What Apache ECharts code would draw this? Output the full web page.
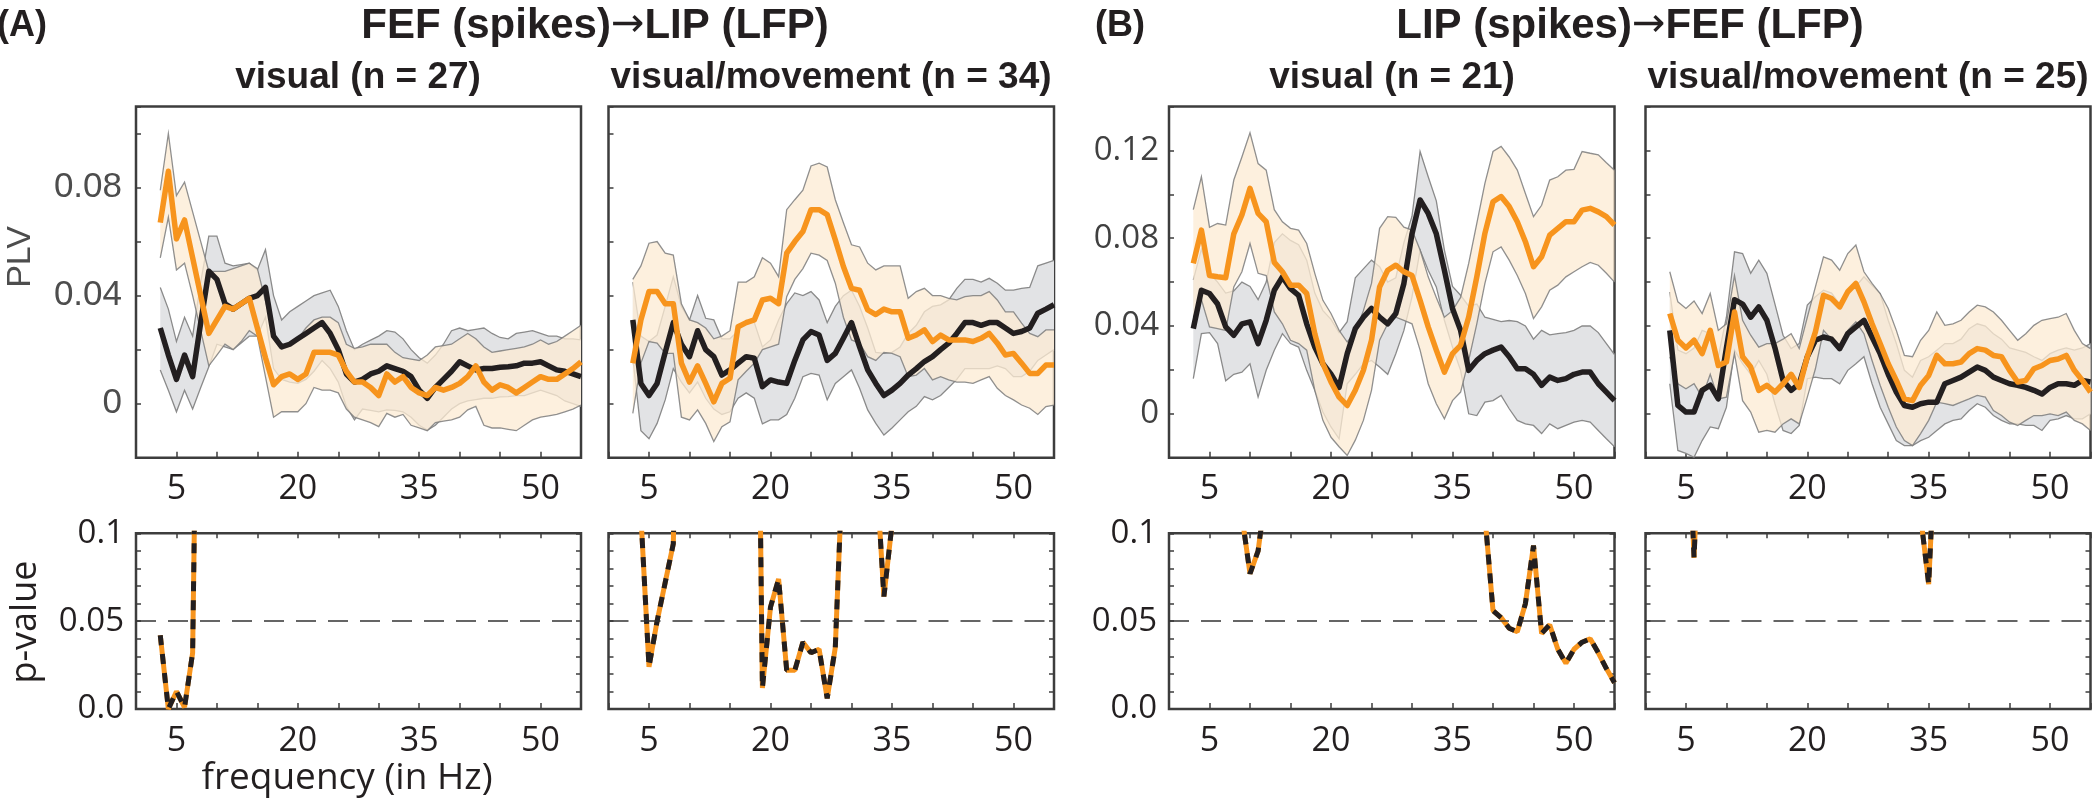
<!DOCTYPE html>
<html>
<head>
<meta charset="utf-8">
<script src="https://cdn.jsdelivr.net/npm/echarts@6/dist/echarts.min.js"></script>
<style>
  html, body { margin: 0; padding: 0; background: #fff; }
  #main { width: 2100px; height: 802px; }
</style>
</head>
<body>
<div id="main"></div>
<script>
// frequency axis (Hz)
const freq = [3, 4, 5, 6, 7, 8, 9, 10, 11, 12, 13, 14, 15, 16, 17, 18, 19, 20, 21, 22,
  23, 24, 25, 26, 27, 28, 29, 30, 31, 32, 33, 34, 35, 36, 37, 38, 39, 40, 41, 42,
  43, 44, 45, 46, 47, 48, 49, 50, 51, 52, 53, 54, 55];
const xLabels = [5, 20, 35, 50];

// (A) FEF -> LIP, visual (n = 27)
const aVisBlack = [0.028, 0.018, 0.009, 0.018, 0.010, 0.030, 0.049, 0.046, 0.037, 0.035,
  0.037, 0.039, 0.040, 0.043, 0.025, 0.021, 0.022, 0.024, 0.026, 0.028,
  0.030, 0.026, 0.020, 0.011, 0.008, 0.009, 0.011, 0.012, 0.014, 0.013,
  0.012, 0.010, 0.005, 0.002, 0.006, 0.009, 0.012, 0.0155, 0.014, 0.0125,
  0.013, 0.013, 0.0135, 0.0137, 0.014, 0.015, 0.015, 0.0155, 0.014, 0.0125,
  0.012, 0.011, 0.010];
const aVisBlackHi = [0.043, 0.035, 0.023, 0.032, 0.025, 0.045, 0.062, 0.062, 0.052, 0.051,
  0.0515, 0.052, 0.0495, 0.057, 0.040, 0.031, 0.034, 0.036, 0.038, 0.040,
  0.041, 0.042, 0.036, 0.027, 0.020, 0.022, 0.0235, 0.025, 0.027, 0.0265,
  0.024, 0.020, 0.017, 0.015, 0.018, 0.022, 0.027, 0.028, 0.027, 0.0275,
  0.028, 0.026, 0.0245, 0.024, 0.026, 0.0265, 0.027, 0.026, 0.025, 0.025,
  0.024, 0.024, 0.0236];
const aVisBlackLo = [0.0125, 0.005, -0.003, 0.005, -0.002, 0.006, 0.0137, 0.022, 0.021, 0.020,
  0.0225, 0.025, 0.025, 0.032, 0.013, 0.009, 0.008, 0.0075, 0.009, 0.012,
  0.016, 0.013, 0.008, -0.001, -0.006, -0.002, -0.0025, -0.003, -0.0023, -0.0025,
  -0.003, -0.005, -0.008, -0.0098, -0.008, -0.005, -0.002, 0.000, 0.001, 0.0015,
  0.002, 0.002, 0.0025, 0.0026, 0.003, 0.003, 0.004, 0.005, 0.004, 0.003,
  0.001, 0.000, -0.001];
const aVisOrange = [0.067, 0.086, 0.061, 0.068, 0.054, 0.040, 0.026, 0.031, 0.036, 0.035,
  0.037, 0.039, 0.028, 0.017, 0.007, 0.010, 0.011, 0.009, 0.011, 0.019,
  0.019, 0.019, 0.018, 0.012, 0.008, 0.008, 0.006, 0.003, 0.011, 0.008,
  0.010, 0.006, 0.004, 0.003, 0.006, 0.005, 0.006, 0.0075, 0.010, 0.014,
  0.008, 0.005, 0.007, 0.006, 0.004, 0.006, 0.008, 0.010, 0.009, 0.009,
  0.011, 0.013, 0.0155];
const aVisOrangeHi = [0.079, 0.100, 0.077, 0.082, 0.071, 0.060, 0.049, 0.049, 0.049, 0.050,
  0.051, 0.052, 0.050, 0.038, 0.026, 0.021, 0.022, 0.024, 0.028, 0.031,
  0.032, 0.032, 0.030, 0.022, 0.0205, 0.021, 0.022, 0.022, 0.022, 0.019,
  0.017, 0.0165, 0.016, 0.018, 0.021, 0.0215, 0.022, 0.024, 0.026, 0.024,
  0.021, 0.019, 0.0195, 0.020, 0.0205, 0.021, 0.022, 0.0236, 0.022, 0.023,
  0.025, 0.027, 0.029];
const aVisOrangeLo = [0.054, 0.069, 0.0495, 0.052, 0.040, 0.027, 0.014, 0.018, 0.022, 0.020,
  0.023, 0.027, 0.025, 0.010, -0.005, -0.003, -0.003, -0.003, 0.000, 0.006,
  0.005, 0.005, 0.004, -0.002, -0.005, -0.006, -0.007, -0.0085, -0.0036, -0.005,
  -0.004, -0.008, -0.009, -0.010, -0.007, -0.0065, -0.006, -0.005, -0.0023, -0.001,
  -0.008, -0.009, -0.009, -0.0095, -0.010, -0.008, -0.006, -0.005, -0.0045, -0.004,
  -0.003, -0.002, -0.0005];

// (A) FEF -> LIP, visual/movement (n = 34)
const aVmBlack = [0.031, 0.0075, 0.003, 0.0075, 0.019, 0.030, 0.022, 0.0174, 0.027, 0.020,
  0.0174, 0.0106, 0.0125, 0.015, 0.0174, 0.0168, 0.0063, 0.0088, 0.008, 0.0075,
  0.016, 0.0236, 0.0267, 0.0254, 0.016, 0.0186, 0.0242, 0.030, 0.021, 0.0125,
  0.0075, 0.003, 0.005, 0.0075, 0.0106, 0.013, 0.0156, 0.0174, 0.020, 0.0224,
  0.026, 0.030, 0.030, 0.029, 0.030, 0.030, 0.028, 0.026, 0.0267, 0.028,
  0.0335, 0.035, 0.0366];
const aVmBlackHi = [0.045, 0.025, 0.023, 0.0254, 0.036, 0.047, 0.036, 0.031, 0.040, 0.0316,
  0.031, 0.024, 0.024, 0.027, 0.031, 0.030, 0.021, 0.0236, 0.031, 0.037,
  0.041, 0.040, 0.0415, 0.0384, 0.030, 0.036, 0.040, 0.042, 0.036, 0.028,
  0.019, 0.0186, 0.019, 0.021, 0.026, 0.029, 0.034, 0.036, 0.0366, 0.0384,
  0.0427, 0.046, 0.046, 0.045, 0.0464, 0.0446, 0.042, 0.042, 0.0427, 0.043,
  0.051, 0.052, 0.053];
const aVmBlackLo = [0.017, -0.010, -0.013, -0.0073, 0.0014, 0.013, 0.008, 0.004, 0.008, 0.002,
  -0.002, -0.004, -0.003, 0.002, 0.004, 0.002, -0.0075, -0.006, -0.006, -0.004,
  0.002, 0.010, 0.0112, 0.0106, 0.0014, 0.0075, 0.010, 0.0125, 0.0057, -0.0023,
  -0.0073, -0.0116, -0.009, -0.006, -0.003, -0.001, 0.0026, 0.0014, 0.003, 0.006,
  0.009, 0.013, 0.013, 0.013, 0.013, 0.014, 0.013, 0.010, 0.010, 0.012,
  0.016, 0.018, 0.020];
const aVmOrange = [0.015, 0.031, 0.0415, 0.0415, 0.037, 0.037, 0.015, 0.008, 0.014, 0.0075,
  0.0007, 0.0075, 0.0094, 0.0285, 0.030, 0.031, 0.0384, 0.039, 0.037, 0.0557,
  0.060, 0.0637, 0.0718, 0.0718, 0.070, 0.0606, 0.0508, 0.0427, 0.042, 0.0347,
  0.033, 0.035, 0.034, 0.034, 0.0242, 0.0254, 0.0273, 0.023, 0.0254, 0.0236,
  0.0236, 0.0236, 0.023, 0.0242, 0.026, 0.0224, 0.018, 0.0186, 0.015, 0.0112,
  0.0112, 0.0143, 0.0143];
const aVmOrangeHi = [0.046, 0.051, 0.0594, 0.060, 0.0557, 0.055, 0.037, 0.031, 0.030, 0.028,
  0.024, 0.025, 0.027, 0.045, 0.045, 0.047, 0.054, 0.052, 0.047, 0.0718,
  0.0755, 0.079, 0.088, 0.089, 0.0876, 0.0755, 0.067, 0.0588, 0.058, 0.052,
  0.0495, 0.051, 0.051, 0.051, 0.039, 0.0415, 0.0427, 0.040, 0.040, 0.039,
  0.0384, 0.0396, 0.040, 0.040, 0.0415, 0.0384, 0.034, 0.034, 0.0298, 0.026,
  0.0248, 0.0273, 0.0273];
const aVmOrangeLo = [-0.0036, 0.015, 0.023, 0.0224, 0.0186, 0.0186, -0.005, -0.006, -0.0023, -0.0073,
  -0.014, -0.0085, -0.0067, 0.0088, 0.012, 0.015, 0.020, 0.021, 0.022, 0.0396,
  0.046, 0.050, 0.0557, 0.055, 0.053, 0.0446, 0.032, 0.0236, 0.0224, 0.0174,
  0.016, 0.019, 0.0186, 0.0174, 0.010, 0.0106, 0.013, 0.0088, 0.010, 0.0088,
  0.008, 0.008, 0.0075, 0.0088, 0.010, 0.0057, 0.003, 0.0014, -0.0005, -0.0017,
  -0.004, -0.0011, -0.0005];

// (B) LIP -> FEF, visual (n = 21)
const bVisBlack = [0.0388, 0.0563, 0.0548, 0.050, 0.0396, 0.0358, 0.041, 0.0419, 0.032, 0.0426,
  0.0563, 0.0624, 0.057, 0.054, 0.041, 0.0304, 0.0228, 0.018, 0.012, 0.0274,
  0.0388, 0.044, 0.048, 0.044, 0.041, 0.0457, 0.0594, 0.082, 0.0974, 0.0913,
  0.082, 0.0654, 0.048, 0.038, 0.0198, 0.0243, 0.0274, 0.029, 0.0304, 0.026,
  0.0205, 0.0205, 0.018, 0.013, 0.0167, 0.0152, 0.016, 0.018, 0.019, 0.019,
  0.0137, 0.0099, 0.006];
const bVisBlackHi = [0.061, 0.075, 0.064, 0.060, 0.055, 0.056, 0.060, 0.058, 0.052, 0.060,
  0.078, 0.082, 0.079, 0.077, 0.070, 0.055, 0.047, 0.043, 0.037, 0.042,
  0.062, 0.066, 0.070, 0.067, 0.060, 0.062, 0.078, 0.090, 0.1195, 0.108,
  0.097, 0.0746, 0.058, 0.054, 0.049, 0.050, 0.044, 0.043, 0.042, 0.0425,
  0.042, 0.040, 0.034, 0.038, 0.036, 0.0365, 0.037, 0.038, 0.040, 0.040,
  0.037, 0.032, 0.027];
const bVisBlackLo = [0.016, 0.0365, 0.037, 0.032, 0.015, 0.018, 0.019, 0.0228, 0.0076, 0.0198,
  0.029, 0.0365, 0.032, 0.0304, 0.0198, 0.0107, 0.0008, -0.006, -0.0114, 0.0137,
  0.018, 0.0228, 0.0243, 0.0213, 0.018, 0.0274, 0.038, 0.0533, 0.0746, 0.0654,
  0.0578, 0.0426, 0.0304, 0.0198, 0.000, -0.0008, 0.0053, 0.006, 0.0084, 0.0023,
  -0.003, -0.0046, -0.0053, -0.009, -0.0046, -0.0068, -0.0053, -0.0038, -0.003, -0.0038,
  -0.0076, -0.0114, -0.015];
const bVisOrange = [0.0685, 0.0837, 0.063, 0.0624, 0.062, 0.082, 0.0906, 0.1027, 0.0913, 0.0875,
  0.069, 0.0647, 0.0586, 0.0586, 0.0548, 0.0365, 0.0228, 0.0145, 0.0076, 0.0038,
  0.0107, 0.0198, 0.0335, 0.0578, 0.0654, 0.0677, 0.0647, 0.063, 0.0517, 0.0396,
  0.029, 0.019, 0.0274, 0.0312, 0.0441, 0.0624, 0.0822, 0.0966, 0.099, 0.0944,
  0.0875, 0.0784, 0.067, 0.0715, 0.0814, 0.0845, 0.0875, 0.0875, 0.0928, 0.0936,
  0.092, 0.0898, 0.086];
const bVisOrangeHi = [0.093, 0.108, 0.085, 0.0867, 0.086, 0.1065, 0.117, 0.128, 0.114, 0.111,
  0.093, 0.0875, 0.0845, 0.0837, 0.0776, 0.064, 0.0517, 0.0457, 0.038, 0.0327,
  0.0373, 0.047, 0.0594, 0.0845, 0.0898, 0.0895, 0.085, 0.0837, 0.0746, 0.0624,
  0.053, 0.044, 0.047, 0.053, 0.0685, 0.0867, 0.105, 0.1195, 0.1218, 0.117,
  0.111, 0.1004, 0.0898, 0.095, 0.1065, 0.108, 0.111, 0.1114, 0.1195, 0.1187,
  0.118, 0.1144, 0.111];
const bVisOrangeLo = [0.044, 0.052, 0.0396, 0.0388, 0.038, 0.0578, 0.0647, 0.0776, 0.064, 0.063,
  0.0464, 0.041, 0.0335, 0.032, 0.029, 0.0107, -0.003, -0.0107, -0.015, -0.019,
  -0.012, -0.003, 0.0107, 0.0335, 0.041, 0.044, 0.0426, 0.041, 0.029, 0.0137,
  0.0046, -0.0023, 0.006, 0.0099, 0.0243, 0.041, 0.0594, 0.0738, 0.076, 0.070,
  0.063, 0.0548, 0.0434, 0.0487, 0.0563, 0.0586, 0.0624, 0.0647, 0.067, 0.069,
  0.0677, 0.064, 0.060];

// (B) LIP -> FEF, visual/movement (n = 25)
const bVmBlack = [0.038, 0.0038, 0.0008, 0.0008, 0.0107, 0.013, 0.0068, 0.030, 0.052, 0.050,
  0.044, 0.0487, 0.0426, 0.030, 0.0152, 0.0107, 0.0137, 0.026, 0.0335, 0.035,
  0.034, 0.0297, 0.0365, 0.0396, 0.0426, 0.035, 0.0274, 0.018, 0.0099, 0.0038,
  0.003, 0.0046, 0.0053, 0.0053, 0.0137, 0.0152, 0.0167, 0.019, 0.0213, 0.0198,
  0.0167, 0.0152, 0.0137, 0.013, 0.012, 0.0107, 0.009, 0.012, 0.0137, 0.0137,
  0.013, 0.0152, 0.0145];
const bVmBlackHi = [0.0555, 0.029, 0.0274, 0.030, 0.038, 0.0365, 0.026, 0.044, 0.0738, 0.073,
  0.064, 0.070, 0.064, 0.050, 0.0358, 0.0297, 0.032, 0.0495, 0.0533, 0.0563,
  0.055, 0.050, 0.055, 0.058, 0.0624, 0.0586, 0.0548, 0.0426, 0.032, 0.0198,
  0.0167, 0.0243, 0.026, 0.029, 0.032, 0.032, 0.034, 0.0388, 0.041, 0.040,
  0.0365, 0.034, 0.030, 0.029, 0.028, 0.026, 0.0243, 0.0274, 0.029, 0.030,
  0.029, 0.030, 0.032];
const bVmBlackLo = [0.0137, -0.0167, -0.018, -0.0198, -0.0122, -0.006, -0.0068, 0.003, 0.029, 0.0228,
  0.018, 0.0243, 0.018, 0.0046, -0.0076, -0.009, -0.0053, 0.016, 0.0167, 0.016,
  0.016, 0.0137, 0.0198, 0.0228, 0.026, 0.0137, 0.003, -0.0046, -0.0122, -0.0145,
  -0.0145, -0.0122, -0.0107, -0.0076, -0.0046, -0.003, -0.0023, 0.0015, 0.0046, 0.003,
  -0.0008, -0.003, -0.0046, -0.0046, -0.0053, -0.0053, -0.0076, -0.003, -0.0023, -0.0008,
  -0.0023, -0.0023, 0.000];
const bVmOrange = [0.0457, 0.0335, 0.030, 0.0335, 0.0274, 0.038, 0.022, 0.0236, 0.0464, 0.026,
  0.0213, 0.0107, 0.013, 0.0099, 0.0137, 0.018, 0.012, 0.026, 0.0373, 0.054,
  0.0525, 0.0487, 0.0556, 0.0594, 0.051, 0.041, 0.032, 0.0228, 0.0152, 0.0068,
  0.006, 0.013, 0.0175, 0.0266, 0.0228, 0.0228, 0.0236, 0.0274, 0.0297, 0.029,
  0.0266, 0.026, 0.0198, 0.0145, 0.0152, 0.0205, 0.022, 0.0243, 0.025, 0.0266,
  0.0198, 0.0152, 0.0099];
const bVmOrangeHi = [0.0647, 0.051, 0.048, 0.0514, 0.0457, 0.0548, 0.038, 0.041, 0.063, 0.0426,
  0.0358, 0.0304, 0.032, 0.032, 0.034, 0.0365, 0.0297, 0.044, 0.0578, 0.0715,
  0.070, 0.0654, 0.073, 0.0769, 0.0647, 0.0594, 0.0548, 0.048, 0.038, 0.0266,
  0.026, 0.0335, 0.038, 0.0464, 0.0403, 0.041, 0.0426, 0.0464, 0.0495, 0.0487,
  0.0464, 0.0426, 0.038, 0.0335, 0.0365, 0.0403, 0.0426, 0.0434, 0.044, 0.0457,
  0.038, 0.032, 0.0297];
const bVmOrangeLo = [0.026, 0.0137, 0.0114, 0.0137, 0.0076, 0.018, 0.0068, 0.0076, 0.0274, 0.006,
  0.0008, -0.0084, -0.0076, -0.0084, -0.0046, -0.0023, -0.0046, 0.0076, 0.0205, 0.038,
  0.034, 0.0304, 0.038, 0.0419, 0.0365, 0.0243, 0.013, 0.003, -0.006, -0.0122,
  -0.0145, -0.009, -0.003, 0.0053, 0.0046, 0.0038, 0.0053, 0.0068, 0.0084, 0.0076,
  0.0015, -0.0008, -0.0038, -0.0053, -0.003, -0.0008, -0.0008, 0.000, -0.0008, 0.0008,
  -0.003, -0.0046, -0.0076];

// p-values, [Hz, p]; null breaks the line, values above 0.1 run off the top
const pAVis = [[3, 0.042], [4, 0.0], [5, 0.010], [6, 0.001], [7, 0.032], [8, 0.37]];
const pAVm = [[3, 0.4], [4, 0.11], [5, 0.024], [6, 0.05], [7, 0.072], [8, 0.094], [9, 0.3], [10, null],
  [18, 0.4], [19, 0.012], [20, 0.058], [21, 0.074], [22, 0.022], [23, 0.022], [24, 0.038],
  [25, 0.032], [26, 0.034], [27, 0.006], [28, 0.035], [29, 0.15], [30, null],
  [33, 0.14], [34, 0.064], [35, 0.105]];
const pBVis = [[9, 0.11], [10, 0.077], [11, 0.09], [12, 0.125], [13, null],
  [38, 0.25], [39, 0.11], [40, 0.056], [41, 0.052], [42, 0.046], [43, 0.044], [44, 0.060],
  [45, 0.093], [46, 0.043], [47, 0.048], [48, 0.034], [49, 0.026], [50, 0.034], [51, 0.038],
  [52, 0.040], [53, 0.032], [54, 0.023], [55, 0.015]];
const pBVm = [[5, 0.2], [6, 0.086], [7, 0.2], [8, null], [34, 0.11], [35, 0.071], [36, 0.17]];

const ORANGE = '#f7941d';
const BLACK = '#231f20';
const AXIS = '#3d3d3d';

const panels = [
  { k: aVisBlack, kHi: aVisBlackHi, kLo: aVisBlackLo, o: aVisOrange, oHi: aVisOrangeHi, oLo: aVisOrangeLo, p: pAVis },
  { k: aVmBlack, kHi: aVmBlackHi, kLo: aVmBlackLo, o: aVmOrange, oHi: aVmOrangeHi, oLo: aVmOrangeLo, p: pAVm },
  { k: bVisBlack, kHi: bVisBlackHi, kLo: bVisBlackLo, o: bVisOrange, oHi: bVisOrangeHi, oLo: bVisOrangeLo, p: pBVis },
  { k: bVmBlack, kHi: bVmBlackHi, kLo: bVmBlackLo, o: bVmOrange, oHi: bVmOrangeHi, oLo: bVmOrangeLo, p: pBVm }
];

const lefts = [136, 608.5, 1169, 1645.5];
const widths = [445, 445.5, 445.5, 445];
const topY = 106.5, topH = 351.2, botY = 533.3, botH = 175.7;

const grid = [];
lefts.forEach((l, i) => grid.push({ left: l, top: topY, width: widths[i], height: topH,
  show: true, borderColor: AXIS, borderWidth: 2.5, backgroundColor: 'transparent' }));
lefts.forEach((l, i) => grid.push({ left: l, top: botY, width: widths[i], height: botH,
  show: true, borderColor: AXIS, borderWidth: 2.5, backgroundColor: 'transparent' }));

const tick = (len) => ({ show: true, inside: true, length: len, lineStyle: { color: AXIS, width: 1.5 } });
const noLine = { show: false, onZero: false };
const xFmt = v => (xLabels.indexOf(v) >= 0 ? String(v) : '');
const yTopFmt = v => {
  const r = Math.round(v * 100);
  if (r === 0) return '0';
  return (r > 0 && r % 4 === 0) ? String(r / 100) : '';
};
const yBotFmt = v => {
  const r = Math.round(v * 100);
  return r === 0 ? '0.0' : r === 5 ? '0.05' : r === 10 ? '0.1' : '';
};
const numFont = { fontFamily: '"Open Sans", sans-serif', fontSize: 34, color: BLACK };

const xAxis = [], yAxis = [];
// 0-3: PLV panels, 4-7: p-value panels (bottom), 8-11: p-value panels (top ticks)
for (let i = 0; i < 8; i++) {
  xAxis.push({ gridIndex: i, type: 'value', min: 0, max: 55, interval: 5,
    axisLine: noLine, splitLine: { show: false }, axisTick: tick(6),
    axisLabel: Object.assign({ formatter: xFmt, margin: 15 }, numFont) });
}
for (let i = 4; i < 8; i++) {
  xAxis.push({ gridIndex: i, type: 'value', position: 'top', min: 0, max: 55, interval: 5,
    axisLine: noLine, splitLine: { show: false }, axisTick: tick(5), axisLabel: { show: false } });
}
for (let i = 0; i < 4; i++) {
  const lbl = i === 0
    ? { show: true, formatter: yTopFmt, margin: 14, fontFamily: '"Liberation Sans", Arial, sans-serif', fontSize: 35, color: '#4d4d4d' }
    : i === 2
      ? { show: true, formatter: yTopFmt, margin: 10, fontFamily: '"Open Sans", sans-serif', fontSize: 33, color: '#404040' }
      : { show: false };
  yAxis.push({ gridIndex: i, type: 'value', min: -0.02, max: i < 2 ? 0.11 : 0.14, interval: 0.02,
    axisLine: noLine, splitLine: { show: false }, axisTick: tick(5), axisLabel: lbl });
}
for (let i = 4; i < 8; i++) {
  const showLbl = i === 4 || i === 6;
  yAxis.push({ gridIndex: i, type: 'value', min: 0, max: 0.1, interval: 0.01,
    axisLine: noLine, splitLine: { show: false }, axisTick: tick(5),
    axisLabel: showLbl ? Object.assign({ formatter: yBotFmt, margin: 12 }, numFont, { fontSize: 33 }) : { show: false } });
}
for (let i = 4; i < 8; i++) {
  yAxis.push({ gridIndex: i, type: 'value', position: 'right', min: 0, max: 0.1, interval: 0.01,
    axisLine: noLine, splitLine: { show: false }, axisTick: tick(5), axisLabel: { show: false } });
}

const pts = arr => freq.map((f, k) => [f, arr[k]]);

// shaded band between lo and hi with thin outline, one polygon per panel
function band(i, lo, hi, fill, edge) {
  return {
    type: 'custom', xAxisIndex: i, yAxisIndex: i, silent: true, clip: true,
    data: freq.map((f, k) => [f, lo[k], hi[k]]),
    encode: { x: 0, y: [1, 2] },
    renderItem: (params, api) => {
      if (params.dataIndex !== 0) return null;
      const up = freq.map((f, k) => api.coord([f, hi[k]]));
      const dn = freq.map((f, k) => api.coord([f, lo[k]]));
      return {
        type: 'group',
        children: [
          { type: 'polygon', shape: { points: up.concat(dn.slice().reverse()) }, style: { fill: fill } },
          { type: 'polyline', shape: { points: up }, style: { stroke: edge, lineWidth: 1.3, fill: null } },
          { type: 'polyline', shape: { points: dn }, style: { stroke: edge, lineWidth: 1.3, fill: null } }
        ]
      };
    }
  };
}
function meanLine(i, arr, color) {
  return { type: 'line', xAxisIndex: i, yAxisIndex: i, data: pts(arr), symbol: 'none', silent: true,
    lineStyle: { color: color, width: 5.5, join: 'round' } };
}

const series = [];
panels.forEach((pn, i) => {
  series.push(band(i, pn.kLo, pn.kHi, '#e2e3e5', '#8a8a8a'));
  series.push(meanLine(i, pn.k, BLACK));
  series.push(band(i, pn.oLo, pn.oHi, 'rgba(253,235,212,0.76)', 'rgba(125,125,125,0.85)'));
  series.push(meanLine(i, pn.o, ORANGE));

  const j = i + 4;
  // 0.05 threshold
  series.push({ type: 'line', xAxisIndex: j, yAxisIndex: j, data: [], silent: true,
    markLine: { silent: true, symbol: 'none', label: { show: false }, animation: false,
      lineStyle: { color: '#333', width: 1.5, type: [20, 12] }, data: [{ yAxis: 0.05 }] } });
  series.push({ type: 'line', xAxisIndex: j, yAxisIndex: j, data: pn.p, symbol: 'none', silent: true,
    lineStyle: { color: ORANGE, width: 5 } });
  series.push({ type: 'line', xAxisIndex: j, yAxisIndex: j, data: pn.p, symbol: 'none', silent: true,
    lineStyle: { color: BLACK, width: 5, type: [10, 9] } });
});

const sans = '"Liberation Sans", Arial, sans-serif';
const txt = (text, x, y, style, extra) => Object.assign({
  type: 'text', x: x, y: y, silent: true,
  style: Object.assign({ text: text, fill: BLACK, align: 'center', verticalAlign: 'middle' }, style)
}, extra || {});
const bold = size => ({ fontFamily: sans, fontWeight: 'bold', fontSize: size });
const arrow = { ar: { fontFamily: '"DejaVu Sans", sans-serif', fontSize: 40, fontWeight: 'normal' } };

const graphic = [
  txt('(A)', 22, 26, bold(36)),
  txt('FEF (spikes){ar|\u2192}LIP (LFP)', 595, 26, Object.assign(bold(42), { rich: arrow })),
  txt('(B)', 1120, 26, bold(36)),
  txt('LIP (spikes){ar|\u2192}FEF (LFP)', 1630, 26, Object.assign(bold(42), { rich: arrow })),
  txt('visual (n = 27)', 358, 78, bold(37)),
  txt('visual/movement (n = 34)', 831, 78, bold(37)),
  txt('visual (n = 21)', 1392, 78, bold(37)),
  txt('visual/movement (n = 25)', 1868, 78, bold(37)),
  txt('PLV', 21, 257, { fontFamily: sans, fontSize: 34, fill: '#4d4d4d' }, { rotation: Math.PI / 2 }),
  txt('p-value', 26, 622, { fontFamily: '"Open Sans", sans-serif', fontSize: 36 }, { rotation: Math.PI / 2 }),
  txt('frequency (in Hz)', 347, 778, { fontFamily: '"Open Sans", sans-serif', fontSize: 37 })
];

const chart = echarts.init(document.getElementById('main'), null, { renderer: 'canvas' });
chart.setOption({
  animation: false,
  backgroundColor: '#fff',
  grid: grid,
  xAxis: xAxis,
  yAxis: yAxis,
  series: series,
  graphic: graphic
});
</script>
</body>
</html>
